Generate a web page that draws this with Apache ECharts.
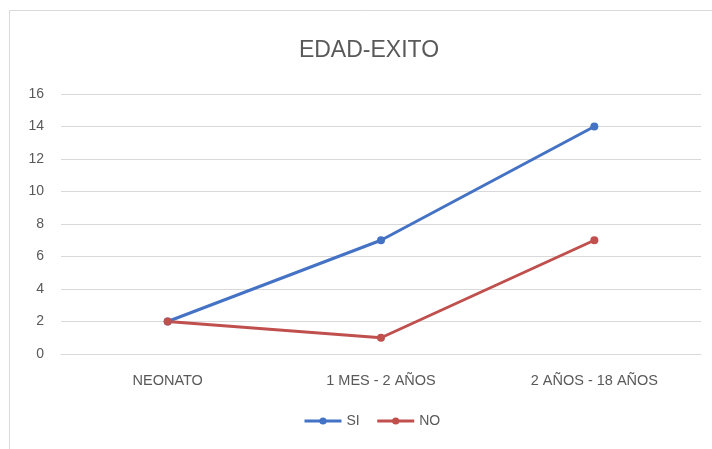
<!DOCTYPE html>
<html>
<head>
<meta charset="utf-8">
<script src="https://cdn.jsdelivr.net/npm/echarts@6/dist/echarts.min.js"></script>
<style>
  html, body { margin: 0; padding: 0; background: #fff; }
  #chart { width: 712px; height: 449px; }
</style>
</head>
<body>
<div id="chart"></div>
<script>
// Age groups and outcome counts
const categories = ['NEONATO', '1 MES - 2 AÑOS', '2 AÑOS - 18 AÑOS'];
const siValues = [2, 7, 14];
const noValues = [2, 1, 7];
const yTicks = { min: 0, max: 16, interval: 2 };

const FONT = '"Liberation Sans", Arial, sans-serif';
const GREY = '#595959';
const chart = echarts.init(document.getElementById('chart'));

chart.setOption({
  backgroundColor: '#ffffff',
  animation: false,
  textStyle: { fontFamily: FONT },
  graphic: [{
    type: 'rect',
    shape: { x: 9.5, y: 10.5, width: 720, height: 460 },
    style: { fill: 'none', stroke: '#d9d9d9', lineWidth: 1 },
    silent: true
  }],
  title: {
    text: 'EDAD-EXITO',
    left: 364,
    textAlign: 'center',
    top: 34,
    textStyle: { fontFamily: FONT, fontSize: 23, fontWeight: 'normal', color: GREY }
  },
  legend: {
    top: 414,
    left: 303,
    padding: 0,
    itemWidth: 37,
    itemHeight: 9,
    itemGap: 16,
    lineStyle: { width: 3 },
    textStyle: { fontFamily: FONT, fontSize: 14, color: GREY },
    data: ['SI', 'NO']
  },
  grid: { left: 61, right: 11, top: 94, bottom: 95 },
  xAxis: {
    type: 'category',
    data: categories,
    boundaryGap: true,
    axisLine: { lineStyle: { color: '#d9d9d9' } },
    axisTick: { show: false },
    axisLabel: { fontFamily: FONT, fontSize: 14.5, color: GREY, margin: 19 }
  },
  yAxis: {
    type: 'value',
    min: yTicks.min,
    max: yTicks.max,
    interval: yTicks.interval,
    axisLine: { show: false },
    axisTick: { show: false },
    splitLine: { lineStyle: { color: '#d9d9d9' } },
    axisLabel: { fontFamily: FONT, fontSize: 14, color: GREY, margin: 17 }
  },
  series: [
    {
      name: 'SI',
      type: 'line',
      data: siValues,
      color: '#4472C4',
      lineStyle: { width: 3 },
      symbol: 'circle',
      symbolSize: 8
    },
    {
      name: 'NO',
      type: 'line',
      data: noValues,
      color: '#C0504D',
      lineStyle: { width: 3 },
      symbol: 'circle',
      symbolSize: 8
    }
  ]
});
</script>
</body>
</html>
